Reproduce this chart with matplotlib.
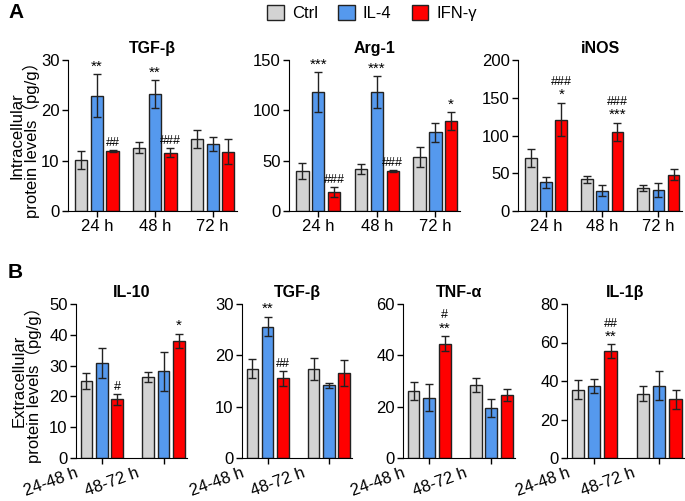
import numpy as np
import matplotlib
matplotlib.use("Agg")
import matplotlib.pyplot as plt
from matplotlib.patches import Patch
import matplotlib.transforms as mtransforms

plt.rcParams['font.family'] = ['Liberation Sans', 'Noto Sans CJK SC', 'DejaVu Sans']

groups = ["Ctrl", "IL-4", "IFN-\u03b3"]
colors = ["#d3d3d3", "#5599ee", "#ff0000"]

# panel A: intracellular
times_a = ["24 h", "48 h", "72 h"]

tgf_a_mean = [[10.2, 12.6, 14.3], [22.9, 23.2, 13.3], [11.9, 11.6, 11.8]]
tgf_a_err = [[1.8, 1.1, 1.7], [4.3, 2.8, 1.4], [0.2, 0.9, 2.5]]
tgf_a_sig = [["", "", ""], ["**", "**", ""], ["##", "###", ""]]

arg_mean = [[40, 42, 54], [118, 118, 78], [19, 40, 89]]
arg_err = [[8, 5, 10], [20, 16, 9], [5, 1, 9]]
arg_sig = [["", "", ""], ["***", "***", ""], ["###", "###", "*"]]

inos_mean = [[70, 42, 31], [38, 27, 28], [121, 105, 48]]
inos_err = [[12, 5, 4], [7, 7, 9], [22, 12, 7]]
inos_sig = [["", "", ""], ["", "", ""], ["###\n*", "###\n***", ""]]

# panel B: extracellular
times_b = ["24-48 h", "48-72 h"]

il10_mean = [[25.0, 26.3], [30.8, 28.1], [19.0, 38.0]]
il10_err = [[2.6, 1.7], [4.8, 6.2], [1.8, 2.4]]
il10_sig = [["", ""], ["", ""], ["#", "*"]]

tgf_b_mean = [[17.4, 17.3], [25.6, 14.2], [15.5, 16.5]]
tgf_b_err = [[1.8, 2.2], [1.9, 0.5], [1.5, 2.5]]
tgf_b_sig = [["", ""], ["**", ""], ["##", ""]]

tnf_mean = [[26.0, 28.5], [23.5, 19.5], [44.5, 24.5]]
tnf_err = [[3.5, 2.8], [5.2, 3.5], [3.0, 2.2]]
tnf_sig = [["", ""], ["", ""], ["#\n**", ""]]

il1b_mean = [[35.5, 33.5], [37.5, 37.5], [55.5, 30.5]]
il1b_err = [[5.0, 4.0], [3.5, 7.5], [3.5, 5.0]]
il1b_sig = [["", ""], ["", ""], ["##\n**", ""]]

W, H = 685, 501
fig = plt.figure(figsize=(W / 100, H / 100), dpi=100)


def px_axes(x0, x1, ytop, ybot):
    return fig.add_axes([x0 / W, 1 - ybot / H, (x1 - x0) / W, (ybot - ytop) / H])


def draw_panel(ax, labels, means, errs, sigs, ymax, ystep, title, width, step, xlim, rotate):
    x = np.arange(len(labels))
    for i in range(3):
        pos = x + (i - 1) * step
        ax.bar(pos, means[i], width, color=colors[i], edgecolor="#222222", linewidth=1.0, zorder=2)
        ax.errorbar(pos, means[i], yerr=errs[i], fmt="none", ecolor="#222222",
                    elinewidth=1.0, capsize=3, capthick=1.0, zorder=3)
        for j in range(len(labels)):
            s = sigs[i][j]
            if s:
                top = means[i][j] + errs[i][j] + ymax * 0.005
                yoff = 0
                for p in reversed(s.split("\n")):
                    fs = 11 if "*" in p else 9
                    ax.annotate(p, (pos[j], top), xytext=(0, yoff), textcoords="offset points",
                                ha="center", va="bottom", fontsize=fs)
                    yoff += 10
    ax.set_ylim(0, ymax)
    ax.set_yticks(np.arange(0, ymax + 0.1, ystep))
    ax.set_xlim(*xlim)
    ax.set_xticks(x)
    ax.spines["top"].set_visible(False)
    ax.spines["right"].set_visible(False)
    ax.tick_params(axis="both", labelsize=12, length=4, width=1, pad=2)
    ax.set_title(title, fontsize=11.5, fontweight="bold", pad=5)
    if rotate:
        ax.set_xticklabels(labels, rotation=20, ha="right")
        off = mtransforms.ScaledTranslation(-22 / 100, 1 / 100, fig.dpi_scale_trans)
        for lab in ax.get_xticklabels():
            lab.set_transform(lab.get_transform() + off)
    else:
        ax.set_xticklabels(labels)


# panel A
ytop_a, ybot_a = 60, 211
axA1 = px_axes(68, 237, ytop_a, ybot_a)
axA2 = px_axes(289, 460, ytop_a, ybot_a)
axA3 = px_axes(518, 682, ytop_a, ybot_a)
xl_a = (-0.5, 2.42)
draw_panel(axA1, times_a, tgf_a_mean, tgf_a_err, tgf_a_sig, 30, 10, "TGF-\u03b2", 0.21, 0.27, xl_a, False)
draw_panel(axA2, times_a, arg_mean, arg_err, arg_sig, 150, 50, "Arg-1", 0.21, 0.27, xl_a, False)
draw_panel(axA3, times_a, inos_mean, inos_err, inos_sig, 200, 50, "iNOS", 0.21, 0.27, xl_a, False)
axA1.set_ylabel("Intracellular\nprotein levels\uff08pg/g\uff09", fontsize=12,
                ha="center", va="center", linespacing=0.9)
axA1.yaxis.set_label_coords((25 - 68) / 169, 0.5)

# panel B
ytop_b, ybot_b = 304, 458
axB1 = px_axes(76, 187, ytop_b, ybot_b)
axB2 = px_axes(242, 352, ytop_b, ybot_b)
axB3 = px_axes(403, 515, ytop_b, ybot_b)
axB4 = px_axes(567, 684, ytop_b, ybot_b)
xl_b = (-0.42, 1.38)
draw_panel(axB1, times_b, il10_mean, il10_err, il10_sig, 50, 10, "IL-10", 0.19, 0.25, xl_b, True)
draw_panel(axB2, times_b, tgf_b_mean, tgf_b_err, tgf_b_sig, 30, 10, "TGF-\u03b2", 0.19, 0.25, xl_b, True)
draw_panel(axB3, times_b, tnf_mean, tnf_err, tnf_sig, 60, 20, "TNF-\u03b1", 0.19, 0.25, xl_b, True)
draw_panel(axB4, times_b, il1b_mean, il1b_err, il1b_sig, 80, 20, "IL-1\u03b2", 0.19, 0.25, xl_b, True)
axB1.set_ylabel("Extracellular\nprotein levels\uff08pg/g\uff09", fontsize=12,
                ha="center", va="center", linespacing=0.9)
axB1.yaxis.set_label_coords((27 - 76) / 111, 0.5)

# legend and panel letters
handles = [Patch(facecolor=c, edgecolor="#222222", linewidth=1.0) for c in colors]
fig.legend(handles, groups, loc="center", bbox_to_anchor=(372 / W, 1 - 13 / H), ncol=3,
           frameon=False, fontsize=12, handlelength=1.0, handleheight=1.0,
           handletextpad=0.5, columnspacing=1.2)
fig.text(8 / W, 1 - 13 / H, "A", fontsize=15, fontweight="bold", va="center", ha="left")
fig.text(8 / W, 1 - 272 / H, "B", fontsize=15, fontweight="bold", va="center", ha="left")

fig.savefig("out.png", dpi=100)
